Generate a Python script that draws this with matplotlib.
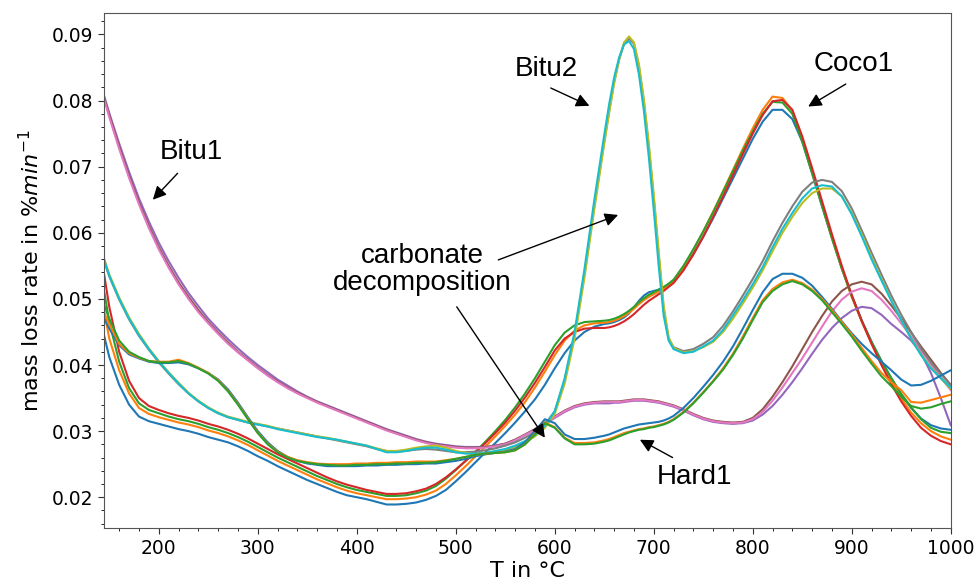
import matplotlib
matplotlib.use("Agg")
import matplotlib.pyplot as plt
from matplotlib.ticker import MultipleLocator

# temperature grid in °C (finer around the Bitu2 peak)
temp = ([145, 150] + list(range(160, 641, 10)) + list(range(650, 721, 5))
        + list(range(730, 1001, 10)))

# Coco1
coco1_blue = [
    0.0443, 0.0412, 0.0370, 0.0340, 0.0322, 0.0315, 0.0311, 0.0307, 0.0303, 0.0300, 0.0296,
    0.0291, 0.0287, 0.0283, 0.0277, 0.0270, 0.0262, 0.0255, 0.0247, 0.0240, 0.0233,
    0.0226, 0.0220, 0.0214, 0.0208, 0.0203, 0.0200, 0.0197, 0.0193, 0.0189, 0.0189,
    0.0190, 0.0192, 0.0196, 0.0202, 0.0211, 0.0224, 0.0238, 0.0253, 0.0268, 0.0282,
    0.0297, 0.0313, 0.0330, 0.0348, 0.0370, 0.0395, 0.0418, 0.0437, 0.0450, 0.0458,
    0.0462, 0.0463, 0.0465, 0.0468, 0.0472, 0.0478, 0.0487, 0.0497, 0.0505, 0.0510,
    0.0512, 0.0514, 0.0517, 0.0522, 0.0528,
    0.0545, 0.0568, 0.0594, 0.0622, 0.0652, 0.0682, 0.0712, 0.0742, 0.0768, 0.0786,
    0.0786, 0.0772, 0.0738, 0.0690, 0.0640, 0.0592, 0.0546, 0.0505, 0.0468, 0.0435,
    0.0406, 0.0380, 0.0356, 0.0335, 0.0319, 0.0309, 0.0304, 0.0302]
coco1_orange = [
    0.0480, 0.0440, 0.0392, 0.0357, 0.0335, 0.0326, 0.0321, 0.0317, 0.0313, 0.0310, 0.0306,
    0.0301, 0.0297, 0.0292, 0.0286, 0.0279, 0.0271, 0.0263, 0.0255, 0.0248, 0.0241,
    0.0234, 0.0227, 0.0221, 0.0215, 0.0210, 0.0206, 0.0203, 0.0200, 0.0197, 0.0197,
    0.0198, 0.0200, 0.0204, 0.0210, 0.0220, 0.0233, 0.0247, 0.0262, 0.0277, 0.0292,
    0.0308, 0.0325, 0.0344, 0.0366, 0.0390, 0.0415, 0.0437, 0.0452, 0.0460, 0.0463,
    0.0464, 0.0465, 0.0467, 0.0470, 0.0474, 0.0479, 0.0485, 0.0492, 0.0498, 0.0503,
    0.0507, 0.0511, 0.0515, 0.0520, 0.0526,
    0.0548, 0.0574, 0.0602, 0.0632, 0.0663, 0.0695, 0.0727, 0.0758, 0.0786, 0.0806,
    0.0804, 0.0785, 0.0742, 0.0692, 0.0642, 0.0592, 0.0546, 0.0503, 0.0466, 0.0433,
    0.0402, 0.0375, 0.0350, 0.0328, 0.0312, 0.0300, 0.0292, 0.0287]
coco1_green = [
    0.0510, 0.0465, 0.0405, 0.0365, 0.0342, 0.0332, 0.0327, 0.0322, 0.0318, 0.0315, 0.0311,
    0.0306, 0.0302, 0.0297, 0.0291, 0.0284, 0.0276, 0.0268, 0.0260, 0.0253, 0.0246,
    0.0239, 0.0232, 0.0226, 0.0220, 0.0215, 0.0211, 0.0208, 0.0205, 0.0202, 0.0202,
    0.0203, 0.0206, 0.0210, 0.0217, 0.0228, 0.0241, 0.0255, 0.0269, 0.0284, 0.0300,
    0.0317, 0.0336, 0.0357, 0.0380, 0.0405, 0.0430, 0.0449, 0.0460, 0.0465, 0.0466,
    0.0467, 0.0468, 0.0470, 0.0473, 0.0477, 0.0482, 0.0488, 0.0495, 0.0501, 0.0506,
    0.0510, 0.0514, 0.0518, 0.0523, 0.0529,
    0.0550, 0.0575, 0.0602, 0.0631, 0.0662, 0.0693, 0.0724, 0.0753, 0.0780, 0.0798,
    0.0797, 0.0780, 0.0738, 0.0690, 0.0641, 0.0592, 0.0546, 0.0504, 0.0467, 0.0435,
    0.0406, 0.0380, 0.0356, 0.0336, 0.0318, 0.0305, 0.0299, 0.0297]
coco1_red = [
    0.0535, 0.0488, 0.0420, 0.0376, 0.0350, 0.0338, 0.0332, 0.0327, 0.0323, 0.0320, 0.0316,
    0.0311, 0.0307, 0.0302, 0.0296, 0.0289, 0.0281, 0.0273, 0.0265, 0.0258, 0.0251,
    0.0244, 0.0237, 0.0230, 0.0224, 0.0219, 0.0215, 0.0211, 0.0208, 0.0205, 0.0205,
    0.0206, 0.0209, 0.0213, 0.0220, 0.0230, 0.0242, 0.0255, 0.0268, 0.0282, 0.0297,
    0.0313, 0.0331, 0.0351, 0.0373, 0.0397, 0.0422, 0.0440, 0.0450, 0.0455, 0.0456,
    0.0456, 0.0457, 0.0459, 0.0462, 0.0466, 0.0471, 0.0477, 0.0484, 0.0491, 0.0497,
    0.0502, 0.0507, 0.0512, 0.0518, 0.0524,
    0.0543, 0.0567, 0.0594, 0.0624, 0.0655, 0.0687, 0.0719, 0.0750, 0.0778, 0.0799,
    0.0801, 0.0786, 0.0746, 0.0698, 0.0648, 0.0598, 0.0550, 0.0506, 0.0467, 0.0432,
    0.0400, 0.0371, 0.0345, 0.0323, 0.0305, 0.0293, 0.0285, 0.0280]

# Bitu1
bitu1_purple = [
    0.0806, 0.0781, 0.0735, 0.0692, 0.0652, 0.0617, 0.0585, 0.0557, 0.0532, 0.0509, 0.0489,
    0.0470, 0.0454, 0.0439, 0.0425, 0.0412, 0.0400, 0.0389, 0.0378, 0.0369, 0.0360,
    0.0352, 0.0345, 0.0339, 0.0333, 0.0327, 0.0321, 0.0315, 0.0309, 0.0303, 0.0298,
    0.0293, 0.0288, 0.0284, 0.0281, 0.0279, 0.0277, 0.0276, 0.0276, 0.0276, 0.0278,
    0.0281, 0.0287, 0.0294, 0.0302, 0.0311, 0.0320, 0.0329, 0.0336, 0.0340, 0.0342,
    0.0342, 0.0342, 0.0343, 0.0343, 0.0344, 0.0345, 0.0346, 0.0346, 0.0346, 0.0345,
    0.0344, 0.0343, 0.0341, 0.0339, 0.0337,
    0.0331, 0.0324, 0.0318, 0.0314, 0.0312, 0.0311, 0.0312, 0.0316, 0.0325, 0.0338,
    0.0355, 0.0374, 0.0395, 0.0417, 0.0438, 0.0456, 0.0471, 0.0482, 0.0488, 0.0486,
    0.0476, 0.0462, 0.0450, 0.0437, 0.0418, 0.0388, 0.0350, 0.0309]
bitu1_brown = [
    0.0803, 0.0778, 0.0730, 0.0686, 0.0646, 0.0610, 0.0578, 0.0550, 0.0525, 0.0503, 0.0483,
    0.0465, 0.0449, 0.0434, 0.0420, 0.0408, 0.0396, 0.0385, 0.0375, 0.0366, 0.0358,
    0.0351, 0.0344, 0.0338, 0.0332, 0.0326, 0.0320, 0.0314, 0.0308, 0.0302, 0.0297,
    0.0292, 0.0287, 0.0283, 0.0280, 0.0278, 0.0276, 0.0275, 0.0275, 0.0276, 0.0278,
    0.0281, 0.0287, 0.0295, 0.0303, 0.0313, 0.0322, 0.0331, 0.0338, 0.0342, 0.0344,
    0.0345, 0.0345, 0.0345, 0.0345, 0.0346, 0.0347, 0.0348, 0.0348, 0.0348, 0.0347,
    0.0346, 0.0345, 0.0343, 0.0341, 0.0339,
    0.0333, 0.0326, 0.0320, 0.0316, 0.0314, 0.0313, 0.0314, 0.0320, 0.0333, 0.0352,
    0.0374, 0.0398, 0.0424, 0.0450, 0.0474, 0.0496, 0.0512, 0.0522, 0.0526, 0.0522,
    0.0508, 0.0490, 0.0470, 0.0449, 0.0428, 0.0408, 0.0388, 0.0370]
bitu1_pink = [
    0.0801, 0.0775, 0.0727, 0.0683, 0.0643, 0.0607, 0.0575, 0.0547, 0.0522, 0.0500, 0.0480,
    0.0463, 0.0447, 0.0432, 0.0419, 0.0407, 0.0395, 0.0384, 0.0374, 0.0365, 0.0357,
    0.0350, 0.0343, 0.0337, 0.0331, 0.0325, 0.0319, 0.0313, 0.0307, 0.0301, 0.0296,
    0.0291, 0.0286, 0.0282, 0.0279, 0.0277, 0.0275, 0.0274, 0.0274, 0.0275, 0.0277,
    0.0280, 0.0286, 0.0294, 0.0302, 0.0312, 0.0321, 0.0330, 0.0337, 0.0341, 0.0343,
    0.0344, 0.0344, 0.0344, 0.0344, 0.0345, 0.0346, 0.0347, 0.0347, 0.0347, 0.0346,
    0.0345, 0.0344, 0.0342, 0.0340, 0.0338,
    0.0332, 0.0325, 0.0319, 0.0315, 0.0313, 0.0312, 0.0313, 0.0318, 0.0329, 0.0346,
    0.0366, 0.0388, 0.0410, 0.0434, 0.0458, 0.0481, 0.0499, 0.0511, 0.0516, 0.0512,
    0.0499, 0.0482, 0.0463, 0.0443, 0.0422, 0.0401, 0.0381, 0.0362]

# Bitu2
bitu2_gray = [
    0.0556, 0.0534, 0.0499, 0.0469, 0.0444, 0.0423, 0.0404, 0.0387, 0.0371, 0.0357, 0.0345,
    0.0335, 0.0327, 0.0321, 0.0317, 0.0313, 0.0310, 0.0307, 0.0304, 0.0301, 0.0298,
    0.0295, 0.0292, 0.0289, 0.0286, 0.0283, 0.0280, 0.0277, 0.0273, 0.0270, 0.0269,
    0.0270, 0.0272, 0.0273, 0.0272, 0.0270, 0.0268, 0.0268, 0.0269, 0.0271, 0.0274,
    0.0278, 0.0283, 0.0290, 0.0298, 0.0310, 0.0330, 0.0376, 0.0445, 0.0538, 0.0641,
    0.0738, 0.0785, 0.0828, 0.0862, 0.0886, 0.0894, 0.0886, 0.0852, 0.0798, 0.0730,
    0.0652, 0.0565, 0.0485, 0.0440, 0.0427,
    0.0421, 0.0424, 0.0432, 0.0442, 0.0459, 0.0481, 0.0505, 0.0530, 0.0557, 0.0587,
    0.0615, 0.0640, 0.0662, 0.0676, 0.0680, 0.0677, 0.0663, 0.0637, 0.0604, 0.0570,
    0.0537, 0.0505, 0.0476, 0.0450, 0.0425, 0.0404, 0.0386, 0.0370]
bitu2_olive = [
    0.0560, 0.0537, 0.0502, 0.0472, 0.0447, 0.0425, 0.0406, 0.0389, 0.0373, 0.0358, 0.0346,
    0.0336, 0.0328, 0.0322, 0.0318, 0.0314, 0.0311, 0.0308, 0.0304, 0.0301, 0.0298,
    0.0295, 0.0292, 0.0290, 0.0287, 0.0284, 0.0281, 0.0278, 0.0274, 0.0270, 0.0270,
    0.0272, 0.0275, 0.0277, 0.0278, 0.0275, 0.0270, 0.0267, 0.0265, 0.0265, 0.0268,
    0.0271, 0.0276, 0.0283, 0.0292, 0.0305, 0.0326, 0.0372, 0.0440, 0.0532, 0.0636,
    0.0735, 0.0782, 0.0826, 0.0862, 0.0888, 0.0897, 0.0888, 0.0855, 0.0802, 0.0735,
    0.0658, 0.0572, 0.0490, 0.0442, 0.0426,
    0.0419, 0.0421, 0.0427, 0.0435, 0.0450, 0.0470, 0.0493, 0.0517, 0.0543, 0.0572,
    0.0600, 0.0624, 0.0645, 0.0660, 0.0667, 0.0667, 0.0655, 0.0630, 0.0598, 0.0563,
    0.0530, 0.0498, 0.0468, 0.0440, 0.0416, 0.0396, 0.0380, 0.0364]
bitu2_cyan = [
    0.0558, 0.0535, 0.0500, 0.0470, 0.0445, 0.0424, 0.0405, 0.0388, 0.0372, 0.0357, 0.0345,
    0.0335, 0.0327, 0.0321, 0.0317, 0.0313, 0.0310, 0.0307, 0.0303, 0.0300, 0.0297,
    0.0294, 0.0291, 0.0289, 0.0287, 0.0284, 0.0281, 0.0278, 0.0273, 0.0268, 0.0268,
    0.0270, 0.0273, 0.0275, 0.0275, 0.0272, 0.0268, 0.0266, 0.0266, 0.0267, 0.0270,
    0.0273, 0.0278, 0.0285, 0.0294, 0.0308, 0.0330, 0.0380, 0.0450, 0.0545, 0.0650,
    0.0748, 0.0795, 0.0835, 0.0865, 0.0885, 0.0890, 0.0878, 0.0840, 0.0785, 0.0715,
    0.0635, 0.0550, 0.0475, 0.0437, 0.0424,
    0.0418, 0.0420, 0.0428, 0.0437, 0.0453, 0.0475, 0.0498, 0.0522, 0.0548, 0.0578,
    0.0606, 0.0630, 0.0652, 0.0667, 0.0672, 0.0670, 0.0655, 0.0628, 0.0595, 0.0560,
    0.0528, 0.0497, 0.0468, 0.0440, 0.0415, 0.0395, 0.0380, 0.0366]

# Hard1
hard1_blue = [
    0.0470, 0.0455, 0.0430, 0.0416, 0.0410, 0.0405, 0.0403, 0.0403, 0.0404, 0.0401, 0.0395,
    0.0388, 0.0378, 0.0363, 0.0343, 0.0321, 0.0300, 0.0283, 0.0270, 0.0261, 0.0255,
    0.0251, 0.0249, 0.0247, 0.0247, 0.0247, 0.0247, 0.0248, 0.0248, 0.0249, 0.0249,
    0.0250, 0.0250, 0.0251, 0.0251, 0.0253, 0.0255, 0.0258, 0.0262, 0.0265, 0.0267,
    0.0269, 0.0273, 0.0283, 0.0300, 0.0318, 0.0312, 0.0295, 0.0288, 0.0288, 0.0290,
    0.0293, 0.0295, 0.0298, 0.0301, 0.0304, 0.0306, 0.0308, 0.0310, 0.0311, 0.0312,
    0.0313, 0.0314, 0.0316, 0.0319, 0.0323,
    0.0335, 0.0350, 0.0367, 0.0385, 0.0405, 0.0428, 0.0455, 0.0483, 0.0510, 0.0530,
    0.0538, 0.0538, 0.0532, 0.0520, 0.0503, 0.0485, 0.0466, 0.0448, 0.0432, 0.0418,
    0.0405, 0.0392, 0.0378, 0.0369, 0.0370, 0.0376, 0.0384, 0.0392]
hard1_orange = [
    0.0478, 0.0462, 0.0432, 0.0418, 0.0411, 0.0406, 0.0405, 0.0405, 0.0408, 0.0403, 0.0396,
    0.0388, 0.0377, 0.0361, 0.0341, 0.0319, 0.0298, 0.0281, 0.0269, 0.0261, 0.0256,
    0.0253, 0.0251, 0.0250, 0.0250, 0.0250, 0.0251, 0.0251, 0.0252, 0.0252, 0.0253,
    0.0253, 0.0254, 0.0254, 0.0254, 0.0256, 0.0258, 0.0261, 0.0264, 0.0266, 0.0267,
    0.0268, 0.0271, 0.0280, 0.0296, 0.0313, 0.0306, 0.0290, 0.0282, 0.0282, 0.0283,
    0.0286, 0.0288, 0.0291, 0.0294, 0.0297, 0.0299, 0.0301, 0.0303, 0.0304, 0.0306,
    0.0307, 0.0309, 0.0311, 0.0314, 0.0318,
    0.0329, 0.0343, 0.0359, 0.0376, 0.0395, 0.0417, 0.0443, 0.0471, 0.0498, 0.0515,
    0.0525, 0.0529, 0.0524, 0.0514, 0.0500, 0.0483, 0.0465, 0.0446, 0.0426, 0.0406,
    0.0388, 0.0374, 0.0362, 0.0344, 0.0343, 0.0347, 0.0351, 0.0355]
hard1_green = [
    0.0490, 0.0470, 0.0437, 0.0420, 0.0412, 0.0406, 0.0404, 0.0404, 0.0406, 0.0402, 0.0395,
    0.0387, 0.0376, 0.0360, 0.0340, 0.0318, 0.0297, 0.0280, 0.0268, 0.0260, 0.0255,
    0.0252, 0.0250, 0.0249, 0.0248, 0.0248, 0.0249, 0.0249, 0.0250, 0.0250, 0.0251,
    0.0251, 0.0252, 0.0252, 0.0253, 0.0255, 0.0258, 0.0261, 0.0264, 0.0266, 0.0267,
    0.0268, 0.0271, 0.0280, 0.0295, 0.0312, 0.0305, 0.0289, 0.0280, 0.0280, 0.0281,
    0.0284, 0.0286, 0.0289, 0.0292, 0.0295, 0.0298, 0.0300, 0.0302, 0.0303, 0.0305,
    0.0306, 0.0308, 0.0310, 0.0313, 0.0317,
    0.0328, 0.0342, 0.0358, 0.0375, 0.0393, 0.0415, 0.0440, 0.0468, 0.0495, 0.0512,
    0.0522, 0.0527, 0.0522, 0.0512, 0.0498, 0.0480, 0.0462, 0.0443, 0.0422, 0.0402,
    0.0383, 0.0368, 0.0352, 0.0338, 0.0334, 0.0336, 0.0341, 0.0345]

curves = [coco1_blue, coco1_orange, coco1_green, coco1_red,
          bitu1_purple, bitu1_brown, bitu1_pink,
          bitu2_gray, bitu2_olive, bitu2_cyan,
          hard1_blue, hard1_orange, hard1_green]

fig = plt.figure(figsize=(9.76, 5.84), dpi=100)
ax = fig.add_axes([0.1069, 0.0954, 0.8672, 0.8818])

for c in curves:
    ax.plot(temp, c, lw=1.5)

ax.set_xlim(temp[0], 1000)
ax.set_ylim(0.0153, 0.0932)
ax.xaxis.set_minor_locator(MultipleLocator(20))
ax.yaxis.set_minor_locator(MultipleLocator(0.002))
ax.tick_params(labelsize=13.5, colors='#333333', labelcolor='black')
ax.tick_params(which='major', length=4.5)
ax.tick_params(which='minor', length=2.5)
for s in ax.spines.values():
    s.set_color('#555555')

ax.set_xlabel('T in °C', fontsize=16, labelpad=2)
ax.set_ylabel('mass loss rate in %$min^{-1}$', fontsize=16, labelpad=6)

# annotations
ann = dict(fontsize=20, family='Liberation Sans', ha='center', va='center')
arr = dict(arrowstyle='-|>', color='black', lw=1, mutation_scale=20, shrinkA=0, shrinkB=0)

ax.annotate('Bitu1', xy=(233, 0.0722), **ann)
ax.annotate('', xy=(194, 0.0650), xytext=(219, 0.0690), arrowprops=arr)
ax.annotate('Bitu2', xy=(591, 0.0848), **ann)
ax.annotate('', xy=(635, 0.0792), xytext=(596, 0.0819), arrowprops=arr)
ax.annotate('Coco1', xy=(902, 0.0856), **ann)
ax.annotate('', xy=(856, 0.0791), xytext=(894, 0.0825), arrowprops=arr)
ax.annotate('Hard1', xy=(741, 0.0230), **ann)
ax.annotate('', xy=(686, 0.0287), xytext=(719, 0.0260), arrowprops=arr)
ax.annotate('carbonate\ndecomposition', xy=(466, 0.0545), linespacing=1.05, **ann)
ax.annotate('', xy=(664, 0.0627), xytext=(543, 0.0559), arrowprops=arr)
ax.annotate('', xy=(590, 0.0290), xytext=(501, 0.0488), arrowprops=arr)

fig.savefig('out.png', dpi=100)
